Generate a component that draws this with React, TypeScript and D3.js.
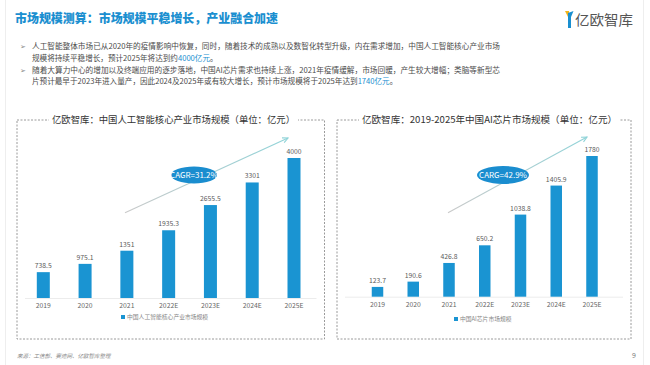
import React from "react";
import * as d3 from "d3";

const years = ["2019", "2020", "2021", "2022E", "2023E", "2024E", "2025E"];
const aiCoreValues = [738.5, 975.1, 1351, 1935.3, 2655.5, 3301, 4000];
const aiCoreLabels = ["738.5", "975.1", "1351", "1935.3", "2655.5", "3301", "4000"];
const aiChipValues = [123.7, 190.6, 426.8, 650.2, 1038.8, 1405.9, 1780];
const aiChipLabels = ["123.7", "190.6", "426.8", "650.2", "1038.8", "1405.9", "1780"];

const pageTitle = "市场规模测算：市场规模平稳增长，产业融合加速";
const leftTitle = "亿欧智库：中国人工智能核心产业市场规模（单位：亿元）";
const rightTitle = "亿欧智库：2019-2025年中国AI芯片市场规模（单位：亿元）";
const leftLegend = "中国人工智能核心产业市场规模";
const rightLegend = "中国AI芯片市场规模";
const leftCagr = "CAGR=31.2%";
const rightCagr = "CARG=42.9%";

const BLUE = "#1a94d2";
const FONT = "'Noto Sans CJK SC', 'Noto Sans', sans-serif";

type PanelProps = {
  x0: number; x1: number; top: number; bottom: number;
  title: string; titleX0: number; titleX1: number;
  values: number[]; labels: string[];
  max: number; baseY: number; topY: number;
  firstX: number; lastX: number; barW: number;
  legend: string; legendX: number; legendY: number;
  arrow: [number, number, number, number];
  ell: [number, number, number, number];
  cagr: string; id: string;
};

function Panel(p: PanelProps) {
  const x = d3.scalePoint<string>().domain(years).range([p.firstX, p.lastX]);
  const y = d3.scaleLinear().domain([0, p.max]).range([p.baseY, p.topY]);
  const [ax1, ay1, ax2, ay2] = p.arrow;
  const ang = Math.atan2(ay2 - ay1, ax2 - ax1);
  const hl = 6;
  const h1 = [ax2 - hl * Math.cos(ang - 0.45), ay2 - hl * Math.sin(ang - 0.45)];
  const h2 = [ax2 - hl * Math.cos(ang + 0.45), ay2 - hl * Math.sin(ang + 0.45)];
  return (
    <g>
      <defs>
        <linearGradient id={p.id} x1={ax1} y1={ay1} x2={ax2} y2={ay2} gradientUnits="userSpaceOnUse">
          <stop offset="0" stopColor="#c9c9c9" />
          <stop offset="1" stopColor="#8fd3d8" />
        </linearGradient>
      </defs>
      <rect x={p.x0} y={p.top} width={p.x1 - p.x0} height={p.bottom - p.top} fill="none"
        stroke="#9a9a9a" strokeWidth={1} strokeDasharray="2,1.5" />
      <rect x={p.titleX0 - 3} y={p.top - 2} width={p.titleX1 - p.titleX0 + 6} height={4} fill="#fff" />
      <text x={(p.titleX0 + p.titleX1) / 2} y={p.top} dy="0.35em" textAnchor="middle" fontSize={9.6}
        fill="#333" fontFamily={FONT} textLength={p.titleX1 - p.titleX0} lengthAdjust="spacingAndGlyphs">{p.title}</text>
      <line x1={p.x0 + 8} x2={p.x1 - 8} y1={p.baseY + 0.5} y2={p.baseY + 0.5} stroke="#ececec" strokeWidth={1} />
      {p.values.map((v, i) => (
        <g key={years[i]}>
          <rect x={(x(years[i]) as number) - p.barW / 2} y={y(v)} width={p.barW} height={p.baseY - y(v)} fill={BLUE} />
          <text x={x(years[i]) as number} y={y(v) - 4} textAnchor="middle" fontSize={6.8} fill="#5a5a5a" fontFamily={FONT}>{p.labels[i]}</text>
          <text x={x(years[i]) as number} y={p.baseY + 8} dy="0.35em" textAnchor="middle" fontSize={6.8} fill="#666" fontFamily={FONT}>{years[i]}</text>
        </g>
      ))}
      <line x1={ax1} y1={ay1} x2={ax2} y2={ay2} stroke={`url(#${p.id})`} strokeWidth={1.1} />
      <polyline points={`${h1[0]},${h1[1]} ${ax2},${ay2} ${h2[0]},${h2[1]}`} fill="none" stroke="#8fd3d8" strokeWidth={1.1} />
      <ellipse cx={p.ell[0]} cy={p.ell[1]} rx={p.ell[2]} ry={p.ell[3]} fill="#1a8dcf" />
      <text x={p.ell[0]} y={p.ell[1]} dy="0.35em" textAnchor="middle" fontSize={8} fill="#fff" fontFamily={FONT}>{p.cagr}</text>
      <rect x={p.legendX - 2} y={p.legendY - 2} width={4} height={4} fill={BLUE} />
      <text x={p.legendX + 4} y={p.legendY} dy="0.35em" fontSize={5.8} fill="#888" fontFamily={FONT}>{p.legend}</text>
    </g>
  );
}

export default function App() {
  const bulletX = 32;
  return (
    <svg width={650} height={365} style={{ position: "absolute", left: 0, top: 0, background: "#fff" }}
      fontFamily={FONT}>
      <rect x={0} y={0} width={650} height={365} fill="#fff" />
      <line x1={5.5} x2={5.5} y1={0} y2={365} stroke="#eeeeee" />
      <line x1={643.5} x2={643.5} y1={0} y2={365} stroke="#eeeeee" />
      <text x={15} y={18.5} dy="0.35em" fontSize={12.2} fontWeight="900" fill="#1b8fd0"
        textLength={263} lengthAdjust="spacingAndGlyphs">{pageTitle}</text>
      {/* logo */}
      <g>
        <path d="M565,11 L569,11 L569.5,20 Z" fill="#f2b51c" />
        <path d="M568,13 L573.5,11 L571,17 L571,28 L568,28 Z" fill="#1a8fd0" />
        <text x={575} y={20} dy="0.35em" fontSize={14} fill="#555" textLength={58} lengthAdjust="spacingAndGlyphs">亿欧智库</text>
      </g>
      {/* bullets */}
      <text x={20} y={46.5} dy="0.35em" fontSize={7} fill="#888">➢</text>
      <text x={20} y={70.5} dy="0.35em" fontSize={7} fill="#888">➢</text>
      <text x={bulletX} y={46.5} dy="0.35em" fontSize={7.6} fill="#4a4a4a" textLength={468} lengthAdjust="spacingAndGlyphs">
        人工智能整体市场已从2020年的疫情影响中恢复，同时，随着技术的成熟以及数智化转型升级，内在需求增加，中国人工智能核心产业市场
      </text>
      <text x={bulletX} y={58} dy="0.35em" fontSize={7.6} fill="#4a4a4a">
        规模将持续平稳增长，预计2025年将达到约<tspan fill="#1a8fd0">4000亿元</tspan>。
      </text>
      <text x={bulletX} y={70.5} dy="0.35em" fontSize={7.6} fill="#4a4a4a" textLength={468} lengthAdjust="spacingAndGlyphs">
        随着大算力中心的增加以及终端应用的逐步落地，中国AI芯片需求也持续上涨，2021年疫情缓解，市场回暖，产生较大增幅；类脑等新型芯
      </text>
      <text x={bulletX} y={81.5} dy="0.35em" fontSize={7.6} fill="#4a4a4a">
        片预计最早于2023年进入量产，因此2024及2025年或有较大增长，预计市场规模将于2025年达到<tspan fill="#1a8fd0">1740亿元</tspan>。
      </text>

      <Panel id="gl" x0={17} x1={324.5} top={120} bottom={339} title={leftTitle} titleX0={52} titleX1={295}
        values={aiCoreValues} labels={aiCoreLabels} max={4000} baseY={298} topY={158}
        firstX={43.3} lastX={294} barW={13}
        legend={leftLegend} legendX={123} legendY={317}
        arrow={[125, 212.7, 288, 138]} ell={[194, 175, 23, 8.5]} cagr={leftCagr} />
      <Panel id="gr" x0={337} x1={631} top={120} bottom={339} title={rightTitle} titleX0={362} titleX1={617}
        values={aiChipValues} labels={aiChipLabels} max={1780} baseY={296.7} topY={156}
        firstX={377.5} lastX={592} barW={11.5}
        legend={rightLegend} legendX={456} legendY={319}
        arrow={[448, 212.7, 587, 137]} ell={[503, 175, 26, 9]} cagr={rightCagr} />

      <text x={17} y={356} dy="0.35em" fontSize={5.5} fill="#888" fontStyle="italic">来源：工信部、赛迪网、亿欧智库整理</text>
      <text x={632} y={356} dy="0.35em" fontSize={7} fill="#777">9</text>
    </svg>
  );
}
